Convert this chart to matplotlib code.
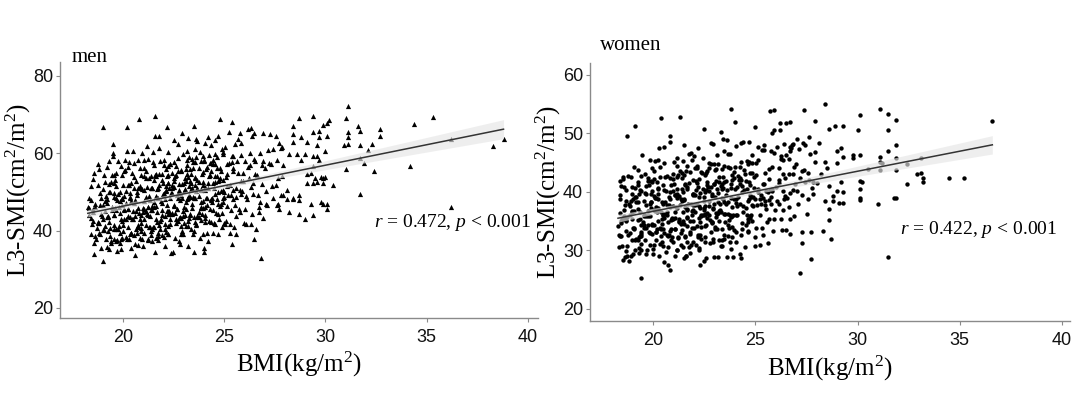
import matplotlib
matplotlib.use('Agg')
import matplotlib.pyplot as plt
import numpy as np

plt.rcParams['mathtext.fontset'] = 'custom'
plt.rcParams['mathtext.rm'] = 'Liberation Serif'
plt.rcParams['mathtext.it'] = 'Liberation Serif:italic'

# ---------------- men data (BMI, L3-SMI) ----------------
men_x_a = [18.34, 18.27, 18.47, 18.34, 18.42, 18.58, 18.45, 18.51, 18.42, 18.65,
           18.54, 18.62, 18.60, 18.70, 18.71, 18.62, 18.75, 18.84, 18.77, 18.87,
           18.75, 18.91, 18.82, 18.95, 18.94, 19.00, 19.07, 18.94, 19.02, 19.00,
           18.45, 18.54, 18.57, 18.87, 18.84, 18.32, 18.78, 18.85, 19.01, 18.52]
men_y_a = [43.9, 46.0, 41.6, 45.8, 47.8, 36.7, 43.2, 45.6, 51.5, 38.7,
           44.8, 46.8, 55.0, 37.9, 40.6, 46.0, 51.7, 39.4, 42.0, 49.6,
           57.2, 35.6, 42.0, 43.7, 48.4, 32.2, 40.1, 44.3, 50.8, 66.8,
           39.2, 53.4, 34.0, 46.6, 55.8, 48.3, 42.2, 39.2, 46.6, 42.5]

men_x_b = [19.17, 19.04, 19.12, 19.18, 19.05, 19.21, 19.12, 19.25, 19.24, 19.20,
           19.30, 19.25, 19.31, 19.22, 19.35, 19.34, 19.37, 19.47, 19.34, 19.42,
           19.42, 19.55, 19.54, 19.47, 19.57, 19.50, 19.50, 19.68, 19.55, 19.61,
           19.57, 19.67, 19.70, 19.72, 19.78, 19.65, 19.71, 19.62, 19.85, 19.84,
           19.82, 19.88, 19.75, 19.91, 19.82, 19.95, 19.94, 19.87, 19.97, 19.14,
           19.41, 19.52, 19.85, 19.14, 19.27, 19.57, 19.64, 19.92, 19.48, 19.55,
           19.24, 19.37, 19.67, 19.74, 19.32, 19.58, 19.65, 19.91, 19.02, 19.55]
men_y_b = [37.8, 43.0, 45.0, 48.9, 54.4, 35.8, 41.2, 43.4, 48.1, 56.4,
           35.3, 39.9, 42.3, 47.2, 49.9, 58.1, 38.7, 45.3, 50.0, 52.5,
           37.2, 40.4, 44.1, 46.2, 52.3, 60.0, 62.3, 37.4, 43.9, 45.8,
           48.7, 54.8, 34.8, 37.5, 40.4, 45.4, 47.8, 53.2, 39.4, 44.6,
           46.0, 49.9, 57.9, 35.3, 41.2, 42.4, 46.6, 47.7, 54.3, 52.5,
           36.8, 59.2, 36.9, 47.6, 43.7, 49.8, 40.5, 43.0, 54.4, 41.4,
           43.6, 40.7, 48.3, 49.5, 52.0, 37.9, 51.4, 37.8, 40.2, 54.4]

men_x_c = [19.94, 20.02, 20.08, 19.95, 20.01, 19.92, 20.15, 20.14, 20.07, 20.17,
           20.05, 20.11, 20.20, 20.25, 20.24, 20.17, 20.27, 20.20, 20.20, 20.38,
           20.30, 20.34, 20.27, 20.37, 20.24, 20.42, 20.48, 20.35, 20.41, 20.32,
           20.57, 20.44, 20.52, 20.58, 20.45, 20.50, 20.60, 20.65, 20.64, 20.57,
           20.68, 20.55, 20.71, 20.62, 20.75, 20.74, 20.67, 20.77, 20.74, 20.82,
           20.72, 20.85, 20.84, 20.80, 20.97, 20.84, 20.92, 20.98, 20.85, 20.91,
           19.97, 20.27, 20.34, 20.62, 20.88, 20.05, 20.31, 20.42, 20.75, 20.94,
           20.02, 20.38, 20.55, 20.91, 20.12, 20.55, 20.84, 20.37, 20.77, 20.04]
men_y_c = [38.0, 40.0, 42.9, 48.4, 51.8, 56.7, 38.4, 43.1, 45.2, 50.3,
           55.4, 58.3, 37.9, 40.9, 45.6, 47.2, 51.8, 60.5, 66.8, 35.4,
           37.9, 43.6, 45.7, 49.8, 56.5, 39.5, 42.9, 48.4, 52.3, 57.7,
           38.8, 43.0, 45.0, 47.9, 54.9, 60.5, 33.8, 40.4, 45.1, 47.2,
           49.9, 57.4, 39.3, 43.7, 45.9, 51.1, 52.7, 58.3, 41.5, 44.5,
           49.2, 51.4, 56.1, 68.8, 37.8, 43.0, 44.0, 45.9, 50.9, 54.3,
           48.2, 43.8, 39.0, 36.5, 41.9, 48.9, 51.8, 47.7, 40.9, 60.1,
           41.5, 39.4, 53.9, 39.8, 55.7, 50.9, 38.1, 48.7, 36.3, 45.5]

men_x_d = [21.00, 20.92, 21.05, 21.04, 20.97, 21.07, 21.04, 21.12, 21.18, 21.05,
           21.14, 21.07, 21.27, 21.14, 21.22, 21.28, 21.15, 21.21, 21.22, 21.35,
           21.24, 21.32, 21.38, 21.25, 21.41, 21.32, 21.45, 21.44, 21.37, 21.47,
           21.45, 21.51, 21.42, 21.55, 21.54, 21.47, 21.60, 21.54, 21.62, 21.68,
           21.65, 21.64, 21.60, 21.60, 21.54, 21.72, 21.78, 21.65, 21.71, 21.62,
           21.77, 21.74, 21.82, 21.88, 21.75, 21.81, 21.80, 21.95, 21.94, 21.87,
           21.98, 21.85, 21.01, 21.12, 21.45, 21.64, 21.77, 21.17, 21.24, 21.52,
           21.62, 21.95, 21.04, 21.27, 21.67, 21.84, 21.22, 21.58, 21.75, 21.41,
           21.07, 21.37, 21.44, 21.72, 21.98]
men_y_d = [36.1, 40.7, 42.9, 47.6, 50.7, 56.3, 39.5, 41.5, 44.4, 50.4,
           53.6, 58.2, 40.8, 45.0, 46.0, 48.9, 55.4, 61.8, 37.7, 40.9,
           46.0, 48.0, 50.9, 58.4, 38.8, 43.7, 46.4, 51.1, 54.2, 60.3,
           37.4, 40.8, 45.2, 47.4, 53.1, 57.7, 34.5, 41.0, 43.0, 44.9,
           48.9, 54.1, 64.4, 69.6, 57.0, 37.5, 41.4, 46.4, 50.8, 54.7,
           61.3, 38.5, 40.5, 42.9, 48.4, 51.8, 64.4, 38.9, 44.1, 47.7,
           49.4, 57.9, 44.8, 48.7, 40.4, 38.1, 54.7, 51.3, 44.0, 46.0,
           48.7, 45.4, 54.1, 53.7, 42.3, 42.5, 37.5, 54.4, 50.9, 45.3,
           45.7, 39.8, 51.0, 39.5, 52.4]

men_x_e = [22.02, 22.08, 21.95, 22.01, 21.92, 22.05, 22.10, 22.07, 22.17, 22.04,
           22.11, 22.02, 22.25, 22.24, 22.17, 22.27, 22.14, 22.22, 22.20, 22.25,
           22.34, 22.27, 22.37, 22.24, 22.32, 22.40, 22.35, 22.41, 22.32, 22.45,
           22.34, 22.50, 22.58, 22.45, 22.51, 22.42, 22.55, 22.64, 22.57, 22.67,
           22.55, 22.61, 22.52, 22.75, 22.74, 22.67, 22.77, 22.64, 22.72, 22.80,
           22.85, 22.84, 22.77, 22.87, 22.74, 22.92, 22.98, 22.85, 22.91, 22.90,
           22.07, 22.14, 22.42, 22.68, 22.75, 22.11, 22.22, 22.55, 22.74, 22.87,
           22.08, 22.25, 22.61, 22.82, 22.25, 22.54, 22.77, 22.17, 22.34, 22.72,
           21.92, 22.25, 22.44, 22.57, 22.87, 22.24, 22.52, 22.78, 22.85, 22.11]
men_y_e = [38.3, 41.7, 47.2, 49.6, 54.5, 58.2, 36.1, 40.5, 45.1, 49.3,
           51.6, 57.0, 39.2, 44.4, 46.5, 51.1, 55.8, 60.3, 66.8, 39.2,
           42.9, 45.0, 49.6, 54.3, 57.3, 34.3, 41.7, 44.6, 48.5, 51.7,
           57.3, 34.5, 38.2, 44.2, 46.6, 51.0, 53.7, 41.9, 44.5, 49.1,
           52.7, 56.6, 63.5, 37.2, 42.4, 45.5, 50.1, 54.3, 58.8, 36.6,
           43.2, 47.9, 50.5, 55.6, 62.3, 39.8, 43.7, 49.2, 52.1, 65.2,
           48.1, 50.3, 49.8, 45.7, 49.7, 50.6, 45.0, 51.2, 48.4, 55.5,
           43.7, 52.2, 43.1, 43.5, 52.2, 46.4, 52.0, 54.1, 44.3, 55.3,
           53.0, 41.2, 54.9, 54.0, 41.1, 56.8, 57.8, 43.2, 39.2, 39.6]

men_x_f = [22.97, 23.07, 22.94, 23.02, 23.08, 22.95, 23.11, 23.02, 23.15, 23.14,
           23.12, 23.18, 23.20, 23.21, 23.12, 23.25, 23.24, 23.17, 23.20, 23.24,
           23.31, 23.22, 23.35, 23.34, 23.27, 23.47, 23.34, 23.42, 23.48, 23.35,
           23.44, 23.50, 23.57, 23.44, 23.52, 23.58, 23.45, 23.50, 23.52, 23.65,
           23.54, 23.62, 23.68, 23.55, 23.60, 23.62, 23.75, 23.74, 23.67, 23.77,
           23.65, 23.81, 23.72, 23.85, 23.84, 23.77, 23.87, 23.84, 23.92, 23.98,
           23.95, 23.94, 22.97, 23.27, 23.34, 23.62, 23.88, 23.05, 23.31, 23.42,
           23.77, 23.84, 23.02, 23.38, 23.55, 23.91, 23.12, 23.55, 23.84, 23.37,
           23.18, 23.25, 23.51, 23.62, 23.95, 23.04, 23.17, 23.47, 23.54, 23.82]
men_y_f = [39.0, 44.1, 48.3, 50.3, 53.7, 59.7, 41.1, 46.0, 48.2, 52.9,
           55.8, 60.7, 36.1, 42.6, 47.5, 49.2, 53.9, 57.0, 64.0, 41.3,
           44.1, 48.5, 50.7, 55.9, 59.0, 39.1, 44.3, 45.8, 48.7, 54.7,
           58.4, 34.5, 42.1, 46.8, 48.3, 51.7, 57.7, 67.0, 40.0, 43.7,
           48.3, 50.3, 53.2, 61.2, 63.8, 41.5, 44.7, 48.9, 51.0, 56.1,
           63.2, 38.1, 43.5, 46.2, 50.4, 52.5, 58.1, 42.8, 44.3, 47.7,
           51.7, 59.4, 45.0, 51.6, 52.8, 41.8, 50.7, 50.7, 48.6, 51.0,
           43.6, 47.3, 52.3, 52.2, 57.7, 54.6, 45.5, 53.7, 45.9, 40.5,
           58.2, 43.2, 43.6, 59.0, 39.2, 41.9, 54.5, 56.1, 53.8, 60.3]

men_x_g = [24.00, 24.00, 24.04, 23.97, 24.07, 23.94, 24.02, 24.18, 24.05, 24.11,
           24.07, 24.17, 24.04, 24.20, 24.28, 24.15, 24.21, 24.12, 24.25, 24.34,
           24.32, 24.38, 24.25, 24.31, 24.22, 24.45, 24.44, 24.37, 24.47, 24.34,
           24.51, 24.42, 24.55, 24.54, 24.47, 24.57, 24.54, 24.62, 24.68, 24.55,
           24.64, 24.57, 24.77, 24.64, 24.72, 24.78, 24.65, 24.70, 24.72, 24.85,
           24.74, 24.82, 24.88, 24.80, 24.91, 24.82, 24.95, 24.94, 24.87, 24.97,
           23.95, 24.21, 24.32, 24.65, 24.84, 24.07, 24.37, 24.44, 24.72, 24.98,
           24.05, 24.34, 24.57, 24.97, 24.14, 24.52, 24.88, 24.35, 24.71, 24.02]
men_y_g = [34.5, 35.6, 43.2, 45.8, 50.4, 55.1, 58.1, 39.5, 46.0, 48.4,
           51.3, 56.4, 62.6, 37.4, 42.5, 48.5, 50.9, 55.8, 59.5, 42.2,
           45.6, 48.5, 54.0, 57.4, 64.3, 39.5, 45.2, 47.8, 52.4, 57.6,
           41.9, 47.3, 49.5, 54.2, 58.3, 63.4, 41.6, 44.6, 47.0, 52.5,
           56.2, 59.8, 42.9, 48.1, 50.1, 53.5, 59.0, 64.4, 44.3, 47.0,
           53.1, 56.1, 61.0, 68.8, 40.9, 46.3, 48.5, 53.2, 55.3, 59.9,
           52.5, 52.4, 54.3, 54.0, 50.2, 42.3, 55.4, 57.1, 39.1, 42.0,
           44.0, 48.2, 57.3, 50.4, 46.6, 51.1, 44.5, 62.0, 52.9, 58.3]

men_x_h = [25.07, 24.94, 25.02, 25.08, 24.95, 25.10, 25.02, 25.15, 25.14, 25.07,
           25.28, 25.15, 25.21, 25.12, 25.30, 25.34, 25.27, 25.37, 25.24, 25.40,
           25.32, 25.45, 25.44, 25.37, 25.40, 25.50, 25.52, 25.58, 25.45, 25.61,
           25.57, 25.67, 25.54, 25.72, 25.78, 25.65, 25.71, 25.80, 25.85, 25.80,
           25.82, 25.98, 25.85, 25.91, 25.82, 25.25, 25.44, 25.57, 25.87, 25.44]
men_y_h = [41.8, 47.5, 50.0, 53.9, 60.4, 42.6, 48.7, 51.4, 57.1, 61.7,
           39.4, 46.4, 49.3, 54.7, 41.8, 49.1, 51.7, 57.8, 65.5, 36.6,
           45.2, 50.4, 56.1, 59.2, 68.0, 40.8, 46.5, 50.9, 59.4, 43.8,
           48.7, 54.8, 62.5, 45.5, 50.4, 57.9, 63.8, 44.7, 52.9, 65.2,
           59.5, 41.9, 49.4, 54.8, 62.7, 57.4, 48.1, 39.2, 50.3, 55.5]

men_x_i = [26.01, 25.92, 26.05, 26.10, 26.07, 26.17, 26.14, 26.22, 26.28, 26.20,
           26.34, 26.27, 26.37, 26.40, 26.42, 26.48, 26.35, 26.50, 26.42, 26.55,
           26.50, 26.60, 26.68, 26.55, 26.71, 26.62, 26.75, 26.80, 26.77, 26.87,
           26.85, 26.91, 26.90, 26.35, 26.74]
men_y_i = [45.5, 52.9, 58.1, 41.8, 48.9, 56.5, 48.2, 53.7, 60.1, 66.2,
           51.3, 56.9, 64.5, 44.4, 52.2, 58.6, 66.6, 37.9, 49.4, 54.6,
           65.2, 40.5, 49.1, 58.1, 46.0, 54.4, 60.1, 33.0, 47.4, 57.0,
           52.1, 58.0, 65.2, 41.6, 44.8]

men_x_j = [27.05, 27.04, 27.07, 27.17, 27.14, 27.22, 27.38, 27.25, 27.41, 27.32,
           27.57, 27.44, 27.62, 27.68, 27.65, 27.70, 27.62, 27.80, 27.84, 27.80,
           27.90, 27.85, 27.91, 26.92, 27.55]
men_y_j = [47.0, 56.2, 50.3, 60.9, 46.6, 57.6, 51.5, 65.0, 48.4, 57.3,
           51.9, 61.1, 46.6, 53.5, 47.0, 62.6, 58.3, 49.1, 61.7, 61.3,
           49.1, 54.0, 56.9, 43.3, 64.5]

men_x_tail = [28.7, 29.4, 31.0, 30.2, 30.1, 29.9, 28.4, 31.6, 32.7, 31.7,
              29.7, 29.4, 31.1, 31.1, 32.7, 28.4, 28.8, 30.1, 29.7, 29.1,
              29.6, 28.4, 30.9, 31.1, 31.7, 32.3, 32.1, 30.0, 28.2, 28.6,
              29.0, 29.4, 29.6, 29.7, 28.8, 31.7, 31.9, 31.0, 32.4, 29.4,
              29.1, 29.3, 29.8, 29.9, 30.0, 29.5, 29.1, 29.4, 29.6, 30.4,
              29.9, 31.7, 28.7, 28.1, 28.4, 27.7, 28.2, 28.7, 29.0, 29.4,
              29.8, 29.9, 30.1, 29.3, 30.1, 28.1, 28.4, 28.7, 31.1, 34.4,
              35.3, 36.2, 38.3, 38.8, 34.2, 36.2]
men_y_tail = [69.1, 69.6, 69.1, 68.6, 67.8, 67.3, 67.0, 67.0, 66.2, 65.7,
              65.7, 65.5, 65.5, 64.2, 64.4, 64.9, 64.2, 64.4, 64.2, 62.8,
              62.1, 62.8, 62.1, 62.3, 62.1, 62.3, 60.8, 60.5, 59.7, 59.7,
              59.7, 59.2, 59.2, 58.2, 58.2, 58.7, 57.4, 55.8, 55.3, 56.6,
              54.5, 55.0, 53.8, 53.5, 53.8, 53.5, 52.2, 52.2, 52.5, 51.9,
              52.2, 49.4, 49.1, 50.4, 48.3, 45.5, 44.7, 44.2, 43.1, 43.9,
              47.3, 47.0, 46.8, 46.8, 45.5, 48.1, 48.1, 47.8, 72.2, 67.5,
              69.3, 63.6, 61.8, 63.6, 56.6, 46.0]

# ---------------- women data (BMI, L3-SMI) ----------------
wom_x_a = [18.34, 18.27, 18.37, 18.34, 18.42, 18.48, 18.35, 18.51, 18.42, 18.55,
           18.44, 18.52, 18.68, 18.55, 18.61, 18.52, 18.70, 18.74, 18.67, 18.70,
           18.65, 18.80, 18.72, 18.85, 18.84, 18.77, 18.97, 18.84, 18.92, 18.98,
           18.35, 18.44, 18.47, 18.67, 18.64, 18.82, 18.98, 18.35, 18.61, 18.72,
           18.57, 18.64, 18.92, 18.38, 18.55]
wom_y_a = [32.6, 34.2, 38.8, 30.5, 32.5, 35.4, 41.9, 28.3, 34.7, 36.9,
           41.0, 42.5, 29.9, 35.4, 37.8, 42.2, 29.1, 32.6, 35.2, 49.6,
           40.4, 28.2, 30.7, 32.9, 37.6, 42.7, 31.8, 36.0, 38.5, 40.9,
           36.4, 35.1, 30.7, 33.3, 35.0, 38.0, 35.4, 39.4, 28.8, 35.7,
           35.8, 38.5, 29.0, 32.4, 40.9]

wom_x_b = [19.02, 19.08, 18.95, 19.01, 18.92, 19.05, 19.14, 19.07, 19.17, 19.10,
           19.11, 19.12, 19.25, 19.24, 19.17, 19.27, 19.30, 19.32, 19.38, 19.25,
           19.27, 19.40, 19.40, 19.42, 19.48, 19.35, 19.41, 19.42, 19.55, 19.54,
           19.58, 19.45, 19.61, 19.52, 19.65, 19.64, 19.57, 19.70, 19.64, 19.72,
           19.62, 19.75, 19.84, 19.77, 19.87, 19.74, 19.82, 19.98, 19.85, 19.91,
           19.94, 18.97, 19.27, 19.34, 19.62, 19.88, 19.05, 19.31, 19.42, 19.75,
           19.84, 19.02, 19.38, 19.55, 19.91, 19.12, 19.55, 19.84, 19.37, 19.77,
           19.05, 19.31, 19.42, 19.75, 19.94, 18.97, 19.27, 19.34, 19.62, 19.88]
wom_y_b = [29.4, 31.8, 36.8, 38.7, 42.6, 44.3, 32.0, 33.6, 38.2, 51.3,
           40.7, 30.1, 31.8, 37.0, 39.1, 43.7, 29.6, 30.4, 32.8, 38.3,
           41.1, 25.3, 30.1, 32.4, 34.8, 40.3, 42.7, 31.1, 33.8, 38.5,
           39.8, 46.3, 31.7, 36.1, 37.8, 41.0, 43.1, 30.1, 33.9, 35.9,
           39.6, 41.8, 31.0, 33.1, 37.2, 42.4, 45.4, 30.3, 35.8, 38.2,
           44.0, 36.6, 35.2, 35.4, 35.9, 38.3, 36.8, 39.7, 33.1, 34.3,
           37.9, 33.9, 34.3, 34.3, 39.7, 39.1, 35.8, 33.0, 36.6, 41.2,
           33.8, 32.2, 40.1, 36.8, 34.5, 39.6, 41.7, 32.4, 29.4, 41.8]

wom_x_c = [20.00, 19.94, 20.02, 20.08, 19.95, 20.01, 20.02, 20.15, 20.14, 20.07,
           20.18, 20.15, 20.21, 20.12, 20.25, 20.24, 20.27, 20.37, 20.24, 20.30,
           20.22, 20.45, 20.44, 20.37, 20.47, 20.34, 20.40, 20.50, 20.45, 20.51,
           20.47, 20.57, 20.50, 20.62, 20.68, 20.55, 20.61, 20.52, 20.70, 20.74,
           20.72, 20.78, 20.65, 20.80, 20.72, 20.85, 20.84, 20.80, 20.80, 20.84,
           20.91, 20.82, 20.95, 20.04, 20.17, 20.47, 20.54, 20.82, 20.18, 20.25,
           20.54, 20.67, 20.97, 19.94, 20.32, 20.68, 20.85, 20.21, 20.42, 20.85,
           20.04, 20.42, 20.78, 19.95, 20.31, 20.52, 20.95, 20.24, 20.47, 20.87,
           20.05, 20.31, 20.42, 20.75, 20.94, 20.37, 20.67, 20.14, 20.82, 20.08]
wom_y_c = [29.3, 32.8, 34.3, 36.7, 41.7, 43.6, 31.0, 33.2, 37.4, 39.0,
           41.7, 33.2, 35.1, 39.0, 40.7, 45.4, 29.0, 33.6, 37.3, 47.5,
           40.5, 30.7, 35.4, 36.5, 41.1, 44.3, 52.6, 28.0, 33.7, 35.6,
           38.0, 42.6, 47.7, 29.8, 32.7, 38.2, 40.1, 45.0, 27.5, 32.4,
           34.8, 37.7, 42.7, 26.7, 30.5, 33.7, 37.4, 48.5, 49.6, 33.3,
           35.6, 40.0, 42.2, 36.9, 36.5, 36.1, 36.3, 38.8, 33.7, 38.7,
           40.4, 36.5, 37.6, 34.3, 33.8, 37.7, 35.2, 39.6, 34.5, 31.7,
           39.3, 38.3, 32.7, 40.2, 42.6, 33.0, 40.2, 36.9, 36.0, 41.1,
           42.2, 31.1, 31.5, 39.2, 31.4, 32.5, 36.1, 31.8, 42.3, 45.2]

wom_x_d = [21.05, 21.04, 20.97, 21.07, 20.94, 21.02, 21.18, 21.05, 21.11, 21.02,
           21.17, 21.14, 21.22, 21.28, 21.15, 21.21, 21.22, 21.35, 21.34, 21.30,
           21.38, 21.35, 21.41, 21.32, 21.45, 21.44, 21.50, 21.57, 21.44, 21.52,
           21.42, 21.50, 21.60, 21.57, 21.67, 21.54, 21.62, 21.78, 21.65, 21.71,
           21.67, 21.77, 21.74, 21.82, 21.88, 21.75, 21.81, 21.82, 21.95, 21.94,
           21.92, 21.08, 21.15, 21.41, 21.52, 21.85, 21.14, 21.27, 21.57, 21.64,
           21.91, 20.92, 21.35, 21.64, 21.87, 21.27, 21.44, 21.82, 21.48, 21.65,
           21.14, 21.27, 21.57, 21.64, 21.92, 21.08, 21.15, 21.41, 21.52, 21.85,
           21.04, 21.32, 21.58, 21.65, 21.91, 20.92, 21.45, 21.84, 21.17, 21.67]
wom_y_d = [29.0, 33.7, 35.3, 39.4, 43.1, 45.1, 30.0, 35.5, 37.4, 41.3,
           44.4, 30.1, 32.1, 35.0, 40.5, 42.9, 32.3, 34.5, 38.7, 52.8,
           40.5, 31.0, 33.4, 37.8, 40.0, 45.2, 28.7, 32.4, 36.6, 38.6,
           43.3, 48.0, 29.1, 32.3, 36.9, 41.1, 43.6, 29.5, 35.5, 37.9,
           40.8, 46.4, 30.6, 33.1, 36.0, 41.5, 43.4, 32.8, 35.0, 39.7,
           42.1, 36.5, 39.0, 38.4, 38.8, 38.0, 37.2, 35.3, 37.4, 37.1,
           33.9, 35.3, 33.0, 35.7, 36.8, 34.9, 35.1, 35.1, 34.5, 40.5,
           39.7, 39.3, 41.4, 34.1, 39.6, 39.5, 42.5, 42.4, 42.8, 31.0,
           33.6, 43.6, 29.0, 44.5, 45.4, 32.3, 30.5, 46.7, 45.8, 31.4]

wom_x_e = [21.95, 22.01, 21.92, 22.05, 22.04, 21.97, 22.17, 22.04, 22.12, 22.18,
           22.15, 22.24, 22.17, 22.27, 22.14, 22.20, 22.30, 22.25, 22.31, 22.22,
           22.37, 22.34, 22.42, 22.48, 22.35, 22.41, 22.50, 22.55, 22.54, 22.47,
           22.58, 22.50, 22.60, 22.52, 22.65, 22.64, 22.57, 22.77, 22.64, 22.72,
           22.62, 22.75, 22.84, 22.77, 22.87, 22.74, 22.80, 22.98, 22.85, 22.91,
           22.87, 22.97, 21.94, 22.22, 22.48, 22.55, 22.81, 22.02, 22.35, 22.54,
           22.72, 22.98, 21.95, 22.31, 22.52, 22.95, 22.24, 22.47, 22.87, 22.34,
           22.11, 22.22, 22.55, 22.74, 22.87, 22.07, 22.14, 22.42, 22.68, 22.75,
           22.14, 22.27, 22.57, 22.64, 22.92, 22.08, 22.35, 22.81, 22.52, 22.25]
wom_y_e = [31.4, 33.8, 37.7, 39.4, 44.1, 46.2, 32.3, 36.5, 38.0, 40.9,
           44.4, 30.1, 32.7, 37.3, 41.5, 47.5, 27.5, 32.4, 34.8, 39.2,
           43.3, 34.0, 36.0, 38.4, 43.4, 45.8, 28.2, 31.4, 36.1, 37.2,
           40.4, 50.8, 28.7, 34.2, 36.4, 41.1, 43.2, 31.3, 35.5, 37.5,
           41.7, 44.9, 33.1, 35.2, 39.3, 44.0, 48.4, 28.9, 34.9, 37.3,
           39.7, 44.8, 39.5, 37.5, 36.9, 39.9, 40.8, 37.7, 35.9, 37.6,
           36.0, 37.9, 36.9, 39.8, 36.2, 41.4, 35.6, 39.2, 34.8, 36.0,
           40.3, 42.2, 42.9, 40.1, 34.7, 41.8, 44.0, 40.5, 40.9, 38.4,
           34.1, 32.7, 34.3, 43.5, 31.5, 30.9, 31.9, 44.8, 32.2, 30.4]

wom_x_f = [22.94, 23.02, 23.08, 22.95, 23.01, 22.92, 23.15, 23.14, 23.07, 23.17,
           23.05, 23.21, 23.12, 23.25, 23.24, 23.17, 23.37, 23.24, 23.32, 23.38,
           23.35, 23.30, 23.37, 23.47, 23.34, 23.42, 23.40, 23.45, 23.51, 23.42,
           23.57, 23.44, 23.60, 23.68, 23.55, 23.61, 23.60, 23.75, 23.74, 23.67,
           23.78, 23.65, 23.81, 23.72, 23.85, 23.84, 23.80, 23.90, 23.84, 23.92,
           23.82, 23.95, 23.04, 23.17, 23.47, 23.54, 23.82, 23.18, 23.25, 23.51,
           23.67, 23.97, 22.94, 23.32, 23.68, 23.85, 23.21, 23.42, 23.85, 23.44,
           23.12, 23.38, 23.45, 23.71, 23.82, 23.05, 23.24, 23.37, 23.67, 23.74,
           23.11, 23.32, 23.75, 23.04, 23.47, 23.87]
wom_y_f = [32.0, 34.0, 36.4, 41.4, 43.8, 48.2, 28.9, 33.6, 35.7, 39.8,
           43.9, 31.8, 36.2, 37.9, 42.6, 44.7, 30.8, 35.0, 36.5, 38.9,
           43.9, 50.3, 31.7, 36.3, 40.5, 42.5, 49.1, 31.9, 34.8, 38.7,
           41.8, 47.0, 28.9, 32.4, 37.9, 40.3, 48.9, 31.4, 36.1, 38.2,
           41.4, 46.4, 30.3, 35.2, 37.4, 42.1, 54.2, 28.9, 34.0, 36.0,
           40.7, 43.4, 39.1, 38.2, 38.3, 39.5, 39.0, 36.4, 36.9, 36.3,
           36.2, 38.8, 37.0, 41.0, 34.4, 42.9, 36.8, 40.7, 35.9, 41.6,
           40.5, 41.4, 44.4, 33.8, 35.7, 41.9, 41.6, 33.7, 44.3, 44.0,
           46.3, 30.7, 46.4, 33.6, 32.7, 32.3]

wom_x_g = [24.04, 23.97, 24.07, 23.94, 24.02, 24.00, 24.05, 24.11, 24.02, 24.15,
           24.04, 24.22, 24.28, 24.15, 24.21, 24.30, 24.35, 24.34, 24.27, 24.30,
           24.35, 24.41, 24.32, 24.45, 24.40, 24.47, 24.57, 24.44, 24.52, 24.58,
           24.65, 24.64, 24.57, 24.67, 24.64, 24.72, 24.78, 24.65, 24.70, 24.72,
           24.87, 24.74, 24.82, 24.98, 24.85, 24.91, 24.82, 24.05, 24.24, 24.37,
           24.68, 24.75, 24.11, 24.22, 24.55, 24.74, 24.87, 24.07, 24.24, 24.62,
           24.82, 24.25, 24.54, 24.77, 24.47, 24.64, 24.12, 24.68, 24.85, 24.31]
wom_y_g = [31.4, 33.5, 38.1, 42.3, 44.3, 52.0, 33.2, 36.1, 40.5, 42.7,
           47.8, 29.3, 32.7, 39.2, 42.1, 28.7, 34.7, 39.9, 42.0, 48.4,
           33.7, 36.6, 41.0, 43.7, 48.5, 30.5, 36.1, 40.3, 41.8, 45.2,
           33.2, 38.4, 40.5, 45.1, 33.3, 35.8, 39.2, 44.7, 48.5, 35.5,
           39.1, 43.3, 46.3, 30.7, 37.7, 40.6, 45.0, 38.7, 41.4, 37.5,
           38.7, 41.2, 37.6, 38.0, 37.2, 39.4, 37.5, 36.1, 42.3, 34.8,
           35.0, 44.2, 34.4, 36.0, 43.1, 35.3, 40.8, 41.7, 43.2, 45.1]

wom_x_h = [24.97, 25.07, 24.94, 25.02, 25.00, 25.05, 25.11, 25.02, 25.15, 25.24,
           25.22, 25.28, 25.15, 25.31, 25.22, 25.35, 25.34, 25.37, 25.47, 25.40,
           25.41, 25.40, 25.55, 25.54, 25.47, 25.60, 25.54, 25.62, 25.68, 25.65,
           25.74, 25.67, 25.70, 25.74, 25.82, 25.80, 25.75, 25.91, 25.82, 25.90,
           25.90, 25.12, 25.38, 25.45, 25.71, 25.82, 25.25, 25.64, 24.97, 25.87]
wom_y_h = [32.2, 37.8, 42.5, 45.0, 51.1, 33.9, 39.9, 42.8, 47.7, 30.9,
           36.0, 39.4, 45.4, 33.8, 38.7, 41.4, 47.1, 32.7, 37.8, 48.0,
           41.3, 47.2, 34.9, 40.1, 43.2, 31.3, 37.0, 40.0, 43.9, 35.4,
           39.1, 42.2, 53.8, 38.0, 40.5, 50.1, 46.9, 35.3, 40.2, 54.0,
           50.6, 40.5, 38.9, 38.4, 40.3, 44.2, 37.9, 38.6, 38.7, 33.3]

wom_x_i = [25.95, 26.01, 25.92, 26.15, 26.14, 26.07, 26.27, 26.14, 26.20, 26.20,
           26.35, 26.34, 26.27, 26.47, 26.34, 26.40, 26.48, 26.45, 26.51, 26.50,
           26.67, 26.54, 26.62, 26.68, 26.65, 26.71, 26.62, 26.70, 26.84, 26.80,
           26.88, 26.85, 26.91, 26.82, 26.05, 26.24, 26.37, 26.67, 26.74, 26.32,
           26.42, 26.95, 26.14, 26.67]
wom_y_i = [36.9, 40.8, 46.7, 37.9, 44.1, 47.7, 35.3, 41.5, 51.8, 50.6,
           36.9, 43.1, 46.2, 39.3, 45.5, 48.2, 33.4, 42.4, 46.3, 51.8,
           32.8, 39.0, 43.0, 46.9, 37.4, 39.8, 45.7, 52.0, 43.1, 48.0,
           35.9, 40.4, 44.3, 48.2, 38.4, 45.6, 40.2, 35.3, 47.5, 33.5,
           38.7, 41.4, 42.1, 47.7]

wom_x_j = [27.04, 26.97, 27.17, 27.04, 27.20, 27.28, 27.15, 27.30, 27.30, 27.35,
           27.45, 27.40, 27.37, 27.57, 27.44, 27.61, 27.52, 27.70, 27.70, 27.65,
           27.80, 27.78, 27.90, 27.90, 27.90, 27.08, 27.55, 27.84, 27.27, 27.64]
wom_y_j = [40.1, 44.7, 42.3, 49.0, 26.2, 39.4, 47.4, 31.3, 33.2, 48.4,
           41.6, 54.0, 43.7, 38.8, 48.0, 42.0, 36.2, 28.5, 33.2, 46.4,
           41.7, 40.6, 52.1, 46.8, 45.1, 37.9, 43.3, 39.7, 43.6, 49.4]

wom_x_tail = [28.4, 28.6, 28.9, 29.3, 30.1, 31.1, 31.5, 31.9, 30.0, 31.5,
              36.6, 28.1, 29.0, 29.2, 29.3, 29.8, 29.8, 30.1, 31.1, 31.5,
              31.9, 28.4, 29.0, 30.5, 31.1, 31.2, 31.9, 32.4, 33.1, 31.1,
              31.9, 32.9, 33.1, 33.2, 33.2, 32.4, 34.5, 35.2, 28.0, 28.6,
              29.2, 30.1, 30.2, 30.1, 28.8, 29.0, 29.3, 31.8, 30.1, 28.4,
              28.8, 29.1, 29.3, 30.1, 31.0, 31.9, 28.6, 28.6, 28.3, 28.7,
              31.5, 28.2, 28.5]
wom_y_tail = [55.0, 50.8, 51.3, 51.3, 53.2, 54.2, 53.3, 52.3, 50.6, 50.6,
              52.1, 48.4, 47.0, 47.5, 46.0, 46.3, 45.8, 46.3, 46.0, 47.0,
              48.0, 45.1, 45.0, 43.9, 45.1, 45.0, 45.8, 44.8, 45.8, 43.8,
              43.8, 43.1, 43.2, 42.4, 41.7, 41.4, 42.4, 42.4, 41.5, 41.0,
              41.7, 41.9, 41.7, 40.5, 39.3, 40.2, 40.0, 39.0, 39.0, 38.5,
              38.5, 38.1, 38.1, 38.6, 37.9, 39.0, 37.1, 35.2, 33.3, 32.0,
              28.9, 43.0, 44.0]

men_bmi = np.array(men_x_a + men_x_b + men_x_c + men_x_d + men_x_e + men_x_f +
                   men_x_g + men_x_h + men_x_i + men_x_j + men_x_tail)
men_smi = np.array(men_y_a + men_y_b + men_y_c + men_y_d + men_y_e + men_y_f +
                   men_y_g + men_y_h + men_y_i + men_y_j + men_y_tail)
wom_bmi = np.array(wom_x_a + wom_x_b + wom_x_c + wom_x_d + wom_x_e + wom_x_f +
                   wom_x_g + wom_x_h + wom_x_i + wom_x_j + wom_x_tail)
wom_smi = np.array(wom_y_a + wom_y_b + wom_y_c + wom_y_d + wom_y_e + wom_y_f +
                   wom_y_g + wom_y_h + wom_y_i + wom_y_j + wom_y_tail)

titles = ['men', 'women']
stat_texts = [r'$r$ = 0.472, $p$ < 0.001', r'$r$ = 0.422, $p$ < 0.001']
x_ticks = [20, 25, 30, 35, 40]
men_y_ticks = [20, 40, 60, 80]
wom_y_ticks = [20, 30, 40, 50, 60]

SERIF = 'Liberation Serif'
SANS = 'Liberation Sans'
SPINE = '#8a8a8a'

fig = plt.figure(figsize=(10.8, 3.97), dpi=100)
ax1 = fig.add_axes([0.0556, 0.199, 0.4425, 0.645])
ax2 = fig.add_axes([0.5463, 0.191, 0.4444, 0.650])


def panel(ax, x, y, marker, size, xlim, ylim, yticks, ypad):
    ax.scatter(x, y, marker=marker, s=size, c='black', linewidths=0, zorder=2)
    b, a = np.polyfit(x, y, 1)
    xs = np.linspace(x.min(), x.max(), 200)
    yhat = a + b * xs
    n = len(x)
    resid = y - (a + b * x)
    s_err = np.sqrt(np.sum(resid ** 2) / (n - 2))
    xm = x.mean()
    sxx = np.sum((x - xm) ** 2)
    ci = 1.96 * s_err * np.sqrt(1.0 / n + (xs - xm) ** 2 / sxx)
    ax.fill_between(xs, yhat - ci, yhat + ci, color='#e6e6e6', alpha=0.65,
                    linewidth=0, zorder=3)
    ax.plot(xs, yhat, color='#333333', lw=1.1, zorder=4)
    ax.set_xlim(*xlim)
    ax.set_ylim(*ylim)
    ax.set_xticks(x_ticks)
    ax.set_yticks(yticks)
    for sp in ['top', 'right']:
        ax.spines[sp].set_visible(False)
    for sp in ['left', 'bottom']:
        ax.spines[sp].set_color(SPINE)
        ax.spines[sp].set_linewidth(1.0)
    ax.tick_params(axis='both', length=3, width=0.8, color=SPINE,
                   labelsize=13, labelcolor='#111111')
    ax.tick_params(axis='x', pad=5)
    ax.tick_params(axis='y', pad=2)
    for lab in ax.get_xticklabels() + ax.get_yticklabels():
        lab.set_fontfamily(SANS)
    ax.set_xlabel(r'BMI(kg/m$^{2}$)', fontfamily=SERIF, fontsize=18,
                  labelpad=3)
    ax.set_ylabel(r'L3-SMI(cm$^{2}$/m$^{2}$)', fontfamily=SERIF, fontsize=18,
                  labelpad=ypad)


panel(ax1, men_bmi, men_smi, '^', 14, (16.9, 40.5), (17.4, 83.6), men_y_ticks, 0)
panel(ax2, wom_bmi, wom_smi, 'o', 10, (16.9, 40.4), (17.9, 62.0), wom_y_ticks, 0)

ax1.text(0.025, 1.0, titles[0], transform=ax1.transAxes, fontfamily=SERIF,
         fontsize=15, ha='left', va='baseline')
ax2.text(0.021, 1.05, titles[1], transform=ax2.transAxes, fontfamily=SERIF,
         fontsize=15, ha='left', va='baseline')

ax1.text(32.4, 42.1, stat_texts[0], fontfamily=SERIF, fontsize=14,
         ha='left', va='center')
ax2.text(32.1, 33.5, stat_texts[1], fontfamily=SERIF, fontsize=14,
         ha='left', va='center')

fig.savefig('out.png', dpi=100, facecolor='white')
